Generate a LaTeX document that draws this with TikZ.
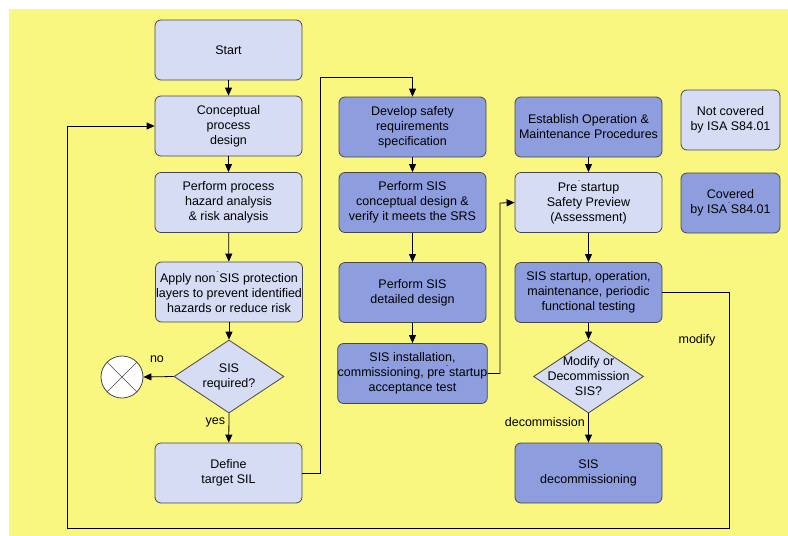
\documentclass[tikz,border=0pt]{standalone}
\usepackage{fontspec}
\setmainfont{Liberation Sans}
\usetikzlibrary{arrows.meta,shapes.geometric,calc}

\definecolor{bgyellow}{RGB}{250,247,128}
\definecolor{lightbox}{RGB}{214,220,244}
\definecolor{darkbox}{RGB}{142,157,222}
\definecolor{edgegray}{RGB}{70,70,80}

% hyphen that sits raised above the gap between two words
\newcommand\hyup{\hbox to .3em{\hss\raisebox{.7em}{\fontsize{6}{6}\selectfont -}\hss}}

\tikzset{
  base/.style={draw=edgegray, line width=0.8pt, rounded corners=6pt,
    minimum width=147pt, minimum height=60pt, inner sep=0pt, align=center,
    font=\fontsize{12.5}{15}\selectfont},
  lbox/.style={base, fill=lightbox},
  dbox/.style={base, fill=darkbox},
  legbox/.style={base, minimum width=99pt},
  dia/.style={draw=edgegray, line width=0.8pt, fill=lightbox, diamond,
    minimum width=110pt, minimum height=73pt, inner sep=0pt},
  txt/.style={align=center, font=\fontsize{12.5}{15}\selectfont},
  arr/.style={draw=black, line width=0.8pt, -{Triangle[length=8pt,width=7pt]}},
  lbl/.style={font=\fontsize{12.5}{15}\selectfont},
}

\begin{document}
\begin{tikzpicture}[x=1pt,y=-1pt]
\useasboundingbox (0,0) rectangle (788,536);
\fill[white] (0,0) rectangle (788,536);
\fill[bgyellow] (9,9) rectangle (788,536);

% left column
\node[lbox] (start)   at (228.5,50)    {Start};
\node[lbox] (concept) at (228.5,126)   {Conceptual\\process\\design};
\node[lbox] (hazard)  at (228.5,202.5) {Perform process\\hazard analysis\\\& risk analysis};
\node[lbox] (apply)   at (229,292)     {Apply non\hyup SIS protection\\layers to prevent identified\\hazards or reduce risk};
\node[dia]  (sisreq)  at (229,376.5)   {};
\node[txt]            at (sisreq)      {SIS\\required?};
\node[draw=edgegray, line width=0.8pt, fill=white, circle, minimum size=42pt, inner sep=0pt] (stop) at (122,377) {};
\draw[edgegray, line width=0.6pt] (stop.north west) -- (stop.south east)
                                  (stop.north east) -- (stop.south west);
\node[lbox] (define)  at (228.5,473)   {Define\\target SIL};

% middle column
\node[dbox] (develop) at (412.5,127)   {Develop safety\\requirements\\specification};
\node[dbox] (conc2)   at (412.5,202.5) {Perform SIS\\conceptual design \&\\verify it meets the SRS};
\node[dbox] (detail)  at (412.5,292.5) {Perform SIS\\detailed design};
\node[dbox] (install) at (412.5,373.5) {SIS installation,\\commissioning, pre\hyup startup\\acceptance test};

% right column
\node[dbox] (establish) at (588.5,127)   {Establish Operation \&\\Maintenance Procedures};
\node[lbox] (prestart)  at (588.5,202.5) {Pre\hyup startup\\Safety Preview\\(Assessment)};
\node[dbox] (startup)   at (588.5,292.5) {SIS startup, operation,\\maintenance, periodic\\functional testing};
\node[dia]  (moddia)    at (588.5,376.5) {};
\node[txt]              at (moddia)      {Modify or\\Decommission\\SIS?};
\node[dbox] (decom)     at (588.5,473)   {SIS\\decommissioning};

% legend
\node[legbox, fill=lightbox] (legnot) at (730.5,120)   {Not covered\\by ISA S84.01};
\node[legbox, fill=darkbox]  (legcov) at (730.5,203)   {Covered\\by ISA\hyup S84.01};

% routing points
\coordinate (j1) at (320,77);
\coordinate (j2) at (500,203);
\coordinate (j3) at (729,528);
\coordinate (j4) at (67,126);

% connectors
\draw[arr] (start) -- (concept);
\draw[arr] (concept) -- (hazard);
\draw[arr] (hazard) -- (apply);
\draw[arr] (apply) -- (sisreq.north);
\draw[arr] (sisreq.south) -- (define) node[lbl, pos=0.3, left] {yes};
\draw[arr] (sisreq.west) -- (stop.east);
\node[lbl] at (157,359) {no};
\draw[arr] (define.east) -| (j1) -| (develop.north);
\draw[arr] (develop) -- (conc2);
\draw[arr] (conc2) -- (detail);
\draw[arr] (detail) -- (install);
\draw[arr] (install.east) -| (j2) -- (prestart.west);
\draw[arr] (establish) -- (prestart);
\draw[arr] (prestart) -- (startup);
\draw[arr] (startup) -- (moddia.north);
\draw[arr] (moddia.south) -- (decom) node[lbl, pos=0.3, left] {decommission};
\draw[arr] (startup.east) -| (j3) -| (j4) -- (concept.west);
\node[lbl] at (697,340) {modify};
\end{tikzpicture}
\end{document}
